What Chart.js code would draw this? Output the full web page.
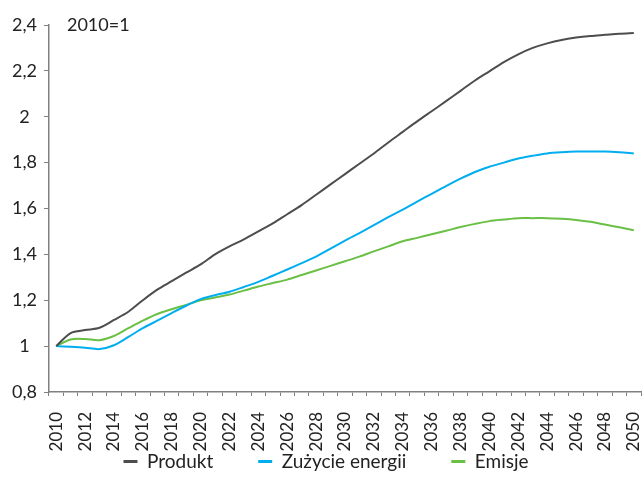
<!DOCTYPE html>
<html>
<head>
<meta charset="utf-8">
<script src="https://cdn.jsdelivr.net/npm/chart.js@4/dist/chart.umd.min.js"></script>
<style>
  html, body { margin: 0; padding: 0; background: #fff; }
  #wrap { width: 644px; height: 499px; position: relative; }
</style>
</head>
<body>
<div id="wrap"><canvas id="chart"></canvas></div>
<script>
const years = [];
for (let y = 2010; y <= 2050; y++) years.push(String(y));

const produkt = [1.0, 1.057, 1.07, 1.08, 1.114, 1.15, 1.20, 1.246, 1.283, 1.32, 1.356,
  1.40, 1.435, 1.465, 1.50, 1.535, 1.575, 1.615, 1.66, 1.705, 1.75,
  1.795, 1.84, 1.888, 1.934, 1.98, 2.024, 2.068, 2.113, 2.158, 2.198,
  2.238, 2.272, 2.30, 2.32, 2.335, 2.345, 2.352, 2.357, 2.362, 2.365];

const zuzycie = [1.0, 0.997, 0.993, 0.987, 1.004, 1.04, 1.078, 1.111, 1.144, 1.176, 1.205,
  1.222, 1.237, 1.258, 1.28, 1.307, 1.334, 1.362, 1.39, 1.425, 1.46,
  1.493, 1.527, 1.562, 1.595, 1.63, 1.664, 1.698, 1.73, 1.759, 1.782,
  1.80, 1.818, 1.83, 1.84, 1.845, 1.848, 1.848, 1.848, 1.845, 1.84];

const emisje = [1.0, 1.029, 1.031, 1.026, 1.044, 1.078, 1.111, 1.14, 1.161, 1.18, 1.20,
  1.212, 1.225, 1.242, 1.26, 1.275, 1.29, 1.31, 1.33, 1.35, 1.37,
  1.39, 1.413, 1.435, 1.457, 1.472, 1.488, 1.503, 1.519, 1.533, 1.545,
  1.552, 1.558, 1.558, 1.558, 1.555, 1.55, 1.542, 1.53, 1.518, 1.505];

const yTicks = [0.8, 1.0, 1.2, 1.4, 1.6, 1.8, 2.0, 2.2, 2.4];

const FONT = 'Lato, "Open Sans", sans-serif';
const X_AXIS_H = 62;
const LEG_PAD = 45;   // horizontal gap between legend items
const LEG_SHIFT = 47; // pull legend rows up so the vertical padding stays small
const LEG_DX = 3;
const LEG_H = 40;

// "2010=1" note in the top-left corner of the plot
const baseNote = {
  id: 'baseNote',
  afterDraw(chart) {
    const { ctx, chartArea } = chart;
    ctx.save();
    ctx.font = '18px ' + FONT;
    ctx.fillStyle = '#222';
    ctx.textBaseline = 'middle';
    ctx.fillText('2010=1', chartArea.left + 18, chartArea.top);
    ctx.restore();
  }
};

function line(label, data, color) {
  return {
    label, data,
    borderColor: color,
    backgroundColor: color,
    borderWidth: 2,
    pointRadius: 0,
    tension: 0.3,
    fill: false,
  };
}

const chart = new Chart(document.getElementById('chart'), {
  type: 'line',
  data: {
    labels: years,
    datasets: [
      line('Produkt', produkt, '#4d4d4f'),
      line('Zużycie energii', zuzycie, '#00aeef'),
      line('Emisje', emisje, '#6abf45'),
    ]
  },
  options: {
    responsive: true,
    maintainAspectRatio: false,
    animation: false,
    layout: { padding: { top: 25, right: 3, left: 5, bottom: 5 } },
    plugins: {
      tooltip: { enabled: false },
      legend: {
        position: 'bottom',
        labels: {
          usePointStyle: true,
          pointStyle: 'line',
          pointStyleWidth: 14,
          padding: LEG_PAD,
          color: '#222',
          font: { family: FONT, size: 19 },
          generateLabels(chart) {
            const items = Chart.defaults.plugins.legend.labels.generateLabels(chart);
            items.forEach(it => { it.lineWidth = 3; });
            return items;
          }
        }
      }
    },
    scales: {
      x: {
        offset: true,
        afterFit: s => { s.height = X_AXIS_H; s.paddingLeft = 0; s.paddingRight = 0; },
        grid: { display: true, drawOnChartArea: false, offset: true, tickLength: 4, color: '#808080' },
        border: { color: '#808080', width: 1.5 },
        ticks: {
          autoSkip: false,
          minRotation: 90,
          maxRotation: 90,
          padding: 16,
          color: '#222',
          font: { family: FONT, size: 17 },
          callback: (v, i) => (i % 2 === 0 ? years[i] : '')
        }
      },
      y: {
        min: 0.8,
        max: 2.4,
        afterBuildTicks: axis => { axis.ticks = yTicks.map(v => ({ value: v })); },
        grid: { display: true, drawOnChartArea: false, tickLength: 5, color: '#808080' },
        border: { color: '#808080', width: 1.5 },
        ticks: {
          color: '#222',
          padding: 7,
          crossAlign: 'center',
          font: { family: FONT, size: 18 },
          callback: v => String(Math.round(v * 10) / 10).replace('.', ',')
        }
      }
    }
  },
  plugins: [baseNote]
});

// keep the wide horizontal spacing of the legend but not its tall vertical padding
const lg = chart.legend;
const fit0 = lg.fit;
const draw0 = lg.draw;
lg.fit = function () { fit0.call(this); this.height = LEG_H; };
lg.draw = function () {
  this.top -= LEG_SHIFT; this.left += LEG_DX; this.right += LEG_DX;
  draw0.call(this);
  this.top += LEG_SHIFT; this.left -= LEG_DX; this.right -= LEG_DX;
};
chart.update();
</script>
</body>
</html>
